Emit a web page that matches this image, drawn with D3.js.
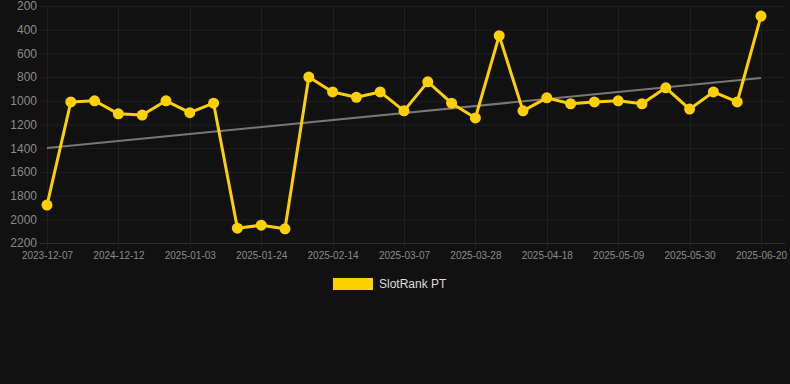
<!DOCTYPE html>
<html lang="en">
<head>
    <meta charset="UTF-8">
    <title>SlotRank PT</title>
    <script src="https://d3js.org/d3.v7.min.js"></script>
    <style>
        body {
            margin: 0;
            background: #111111;
            font-family: Arial, 'Liberation Sans', sans-serif;
        }

        svg {
            display: block;
        }
    </style>
</head>
<body>
    <div id="chart"></div>

    <script>
        // dates on the x axis (only every third one is labelled)
        const dates = [
            "2023-12-07", "2024-11-28", "2024-12-05",
            "2024-12-12", "2024-12-19", "2024-12-27",
            "2025-01-03", "2025-01-10", "2025-01-17",
            "2025-01-24", "2025-01-31", "2025-02-07",
            "2025-02-14", "2025-02-21", "2025-02-28",
            "2025-03-07", "2025-03-14", "2025-03-21",
            "2025-03-28", "2025-04-04", "2025-04-11",
            "2025-04-18", "2025-04-25", "2025-05-02",
            "2025-05-09", "2025-05-16", "2025-05-23",
            "2025-05-30", "2025-06-06", "2025-06-13",
            "2025-06-20"
        ];

        // rank values (lower is better, axis reversed)
        const ranks = [
            1880, 1010, 1000, 1110, 1120, 1000, 1100, 1020,
            2075, 2050, 2080, 800, 925, 970, 925, 1085,
            840, 1020, 1145, 450, 1085, 975, 1025, 1010,
            1000, 1025, 890, 1070, 925, 1010, 285
        ];

        // trend line end values
        const trendStart = 1398;
        const trendEnd = 808;

        const yTicks = [200, 400, 600, 800, 1000, 1200, 1400, 1600, 1800, 2000, 2200];
        const seriesName = "SlotRank PT";

        const width = 790, height = 384;
        const plotLeft = 40, plotRight = 785, plotTop = 6, plotBottom = 243;

        const svg = d3.select("#chart").append("svg")
            .attr("width", width)
            .attr("height", height)
            .style("background", "#111111");

        const x = d3.scalePoint()
            .domain(dates)
            .range([47, 761]);

        const y = d3.scaleLinear()
            .domain([200, 2200])
            .range([plotTop, plotBottom]);

        // horizontal grid
        svg.append("g")
            .selectAll("line")
            .data(yTicks)
            .join("line")
            .attr("x1", plotLeft)
            .attr("x2", plotRight)
            .attr("y1", d => y(d) + 0.5)
            .attr("y2", d => y(d) + 0.5)
            .attr("stroke", d => d === 2200 ? "#2e2e2e" : "#1f1f1f")
            .attr("stroke-width", 1);

        const labelled = dates.filter((d, i) => i % 3 === 0);

        // vertical grid
        svg.append("g")
            .selectAll("line")
            .data(labelled)
            .join("line")
            .attr("x1", d => Math.round(x(d)) + 0.5)
            .attr("x2", d => Math.round(x(d)) + 0.5)
            .attr("y1", plotTop)
            .attr("y2", plotBottom + 6)
            .attr("stroke", "#1f1f1f");

        // y axis labels
        const yAxis = d3.axisLeft(y)
            .tickValues(yTicks)
            .tickFormat(d3.format("d"))
            .tickSize(0)
            .tickPadding(0);
        svg.append("g")
            .attr("transform", "translate(37,0)")
            .call(yAxis)
            .call(g => g.select(".domain").remove())
            .selectAll("text")
            .attr("fill", "#8a8a8a")
            .style("font-size", "12px")
            .style("font-family", "Arial, 'Liberation Sans', sans-serif");

        // x axis labels
        const xAxis = d3.axisBottom(x).tickValues(labelled).tickSize(0).tickPadding(0);
        svg.append("g")
            .attr("transform", "translate(0,252)")
            .call(xAxis)
            .call(g => g.select(".domain").remove())
            .selectAll("text")
            .attr("fill", "#8a8a8a")
            .style("font-size", "10px")
            .style("font-family", "Arial, 'Liberation Sans', sans-serif");

        // trend line
        svg.append("line")
            .attr("x1", x(dates[0]))
            .attr("x2", x(dates[dates.length - 1]))
            .attr("y1", y(trendStart))
            .attr("y2", y(trendEnd))
            .attr("stroke", "#777777")
            .attr("stroke-width", 2);

        const points = dates.map((d, i) => ({ date: d, rank: ranks[i] }));

        const line = d3.line()
            .x(d => x(d.date))
            .y(d => y(d.rank));

        svg.append("path")
            .datum(points)
            .attr("fill", "none")
            .attr("stroke", "#ffd000")
            .attr("stroke-width", 3)
            .attr("stroke-linejoin", "round")
            .attr("d", line);

        svg.append("g")
            .selectAll("circle")
            .data(points)
            .join("circle")
            .attr("cx", d => x(d.date))
            .attr("cy", d => y(d.rank))
            .attr("r", 5.5)
            .attr("fill", "#ffd000");

        // legend
        const legend = svg.append("g").attr("transform", "translate(333,278)");
        legend.append("rect")
            .attr("width", 40)
            .attr("height", 12)
            .attr("fill", "#ffd000");
        legend.append("text")
            .attr("x", 46)
            .attr("y", 10)
            .attr("fill", "#dddddd")
            .style("font-size", "12px")
            .text(seriesName);
    </script>
</body>
</html>
